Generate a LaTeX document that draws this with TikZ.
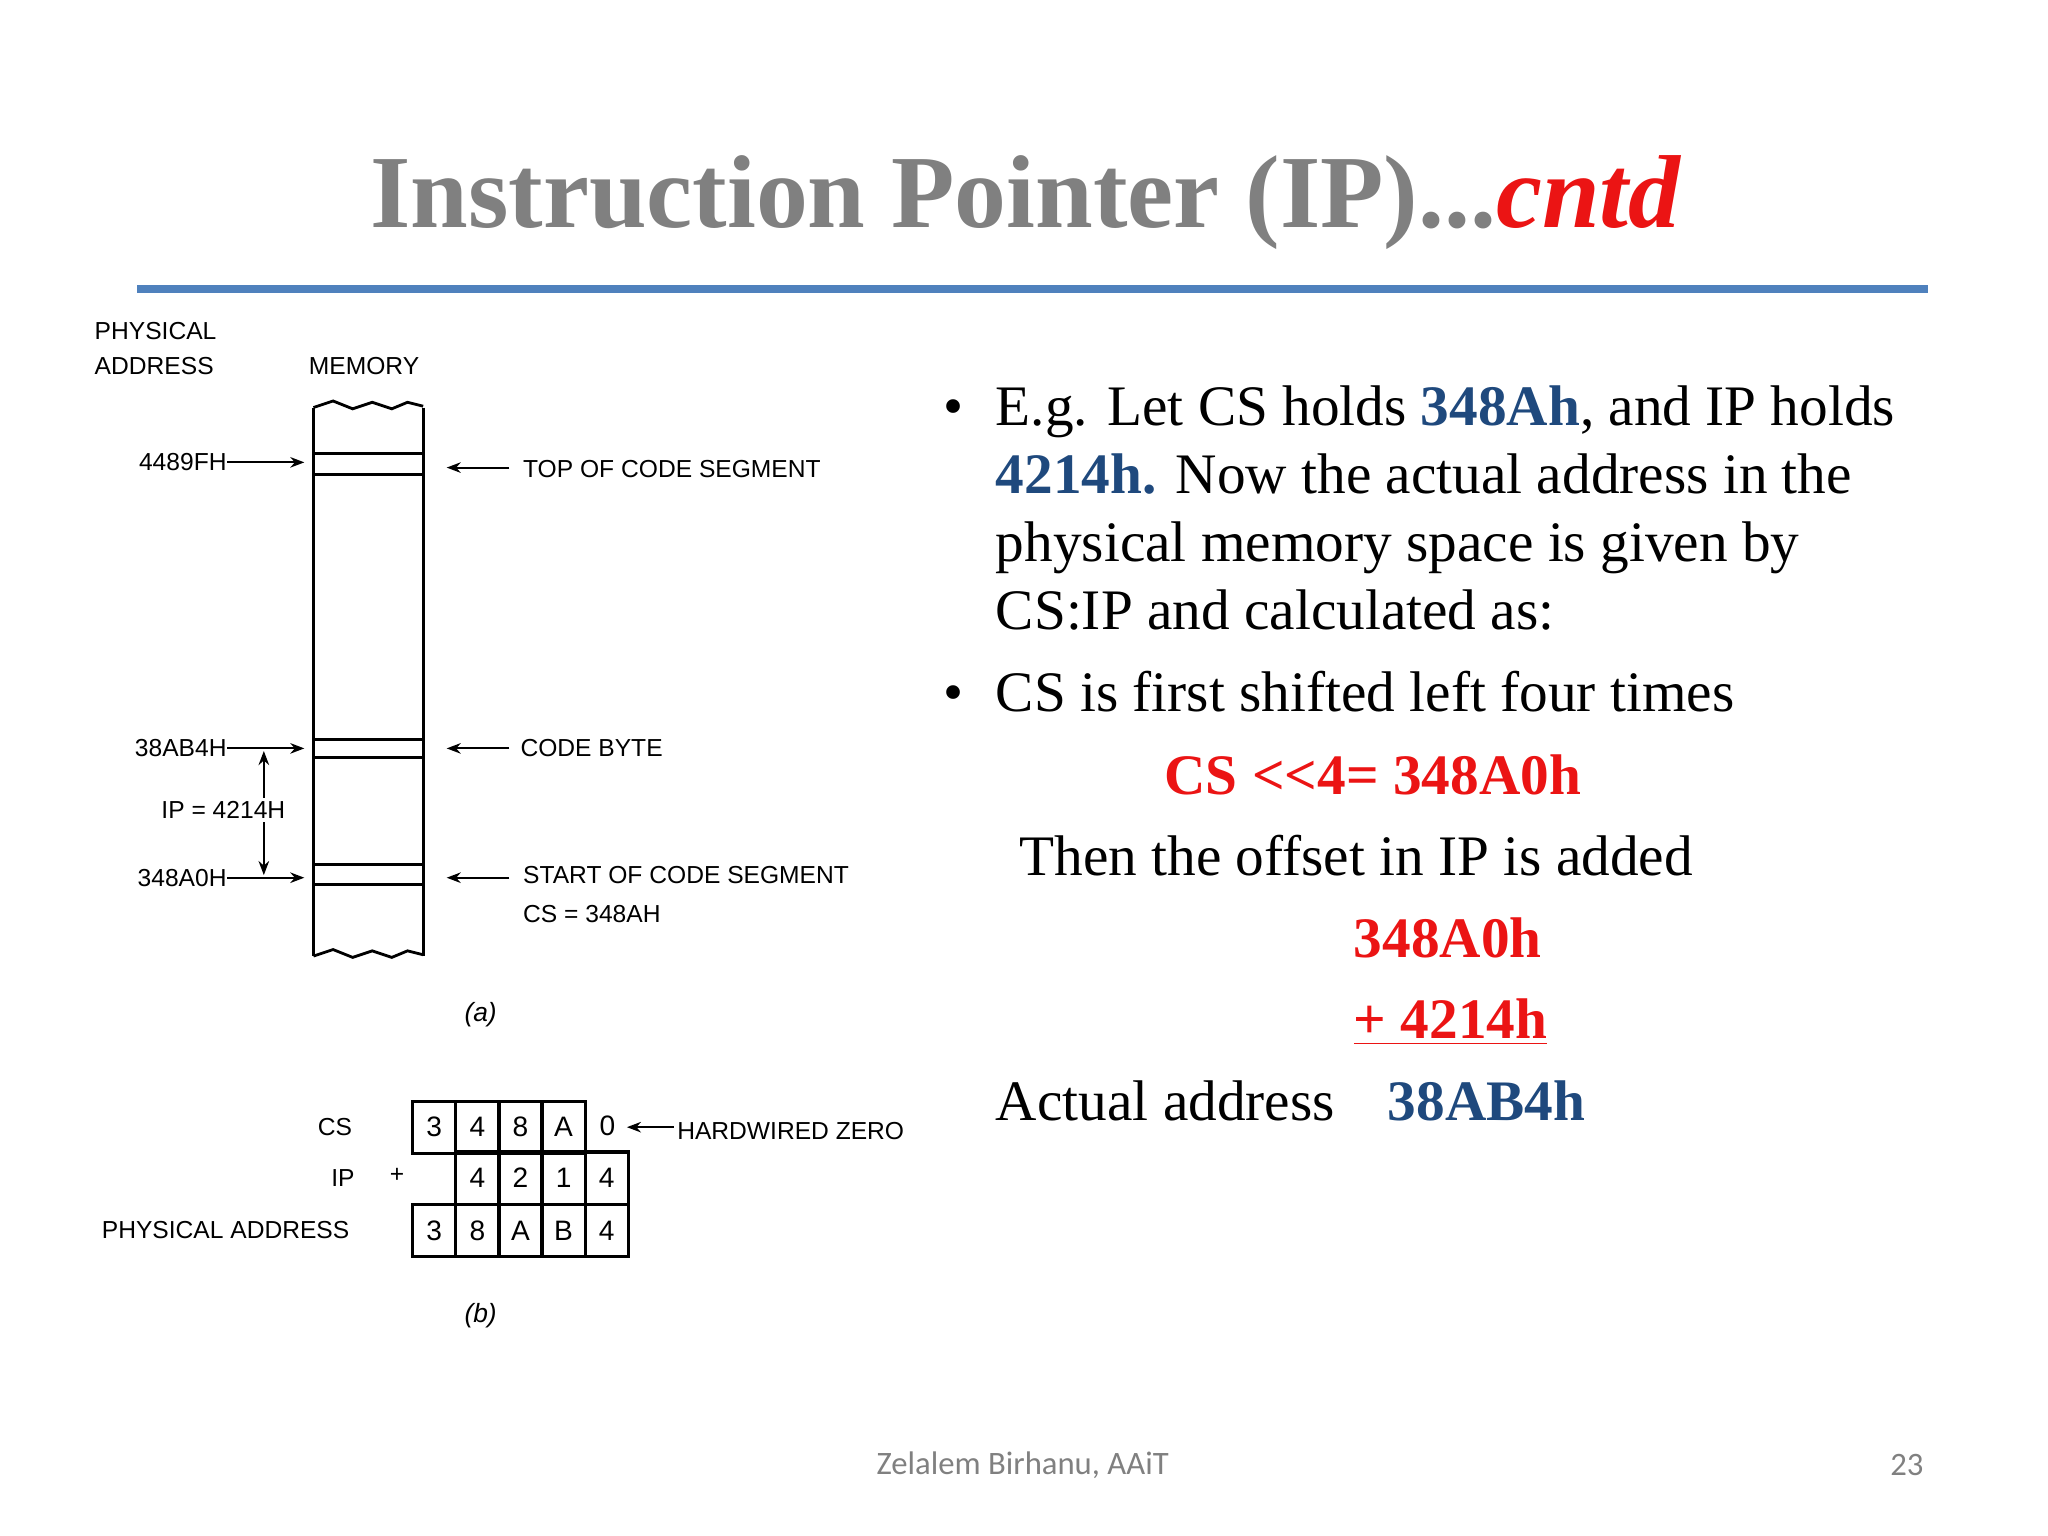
\documentclass[tikz,border=0pt]{standalone}
\usepackage{fontspec}
\setmainfont{Liberation Serif}
\newfontfamily\dg{Liberation Sans}
\newfontfamily\ft{Carlito}
\usetikzlibrary{arrows.meta}
\definecolor{tgray}{RGB}{128,128,128}
\definecolor{rule}{RGB}{79,129,189}
\definecolor{dblue}{RGB}{31,73,125}
\definecolor{myred}{RGB}{235,20,20}
\tikzset{
 lab/.style={font=\dg\fontsize{7}{9}\selectfont,inner sep=0pt},
 body/.style={font=\fontsize{16.3}{19}\selectfont,inner sep=0pt,anchor=base west},
 bb/.style={body,text=myred,font=\bfseries\fontsize{16.3}{19}\selectfont},
 ar/.style={-{Stealth[length=4pt,width=3pt]},line width=0.6pt},
 cell/.style={draw,line width=0.9pt,minimum width=0.431cm,minimum height=0.522cm,inner sep=0pt,font=\dg\fontsize{8}{9}\selectfont},
}
\begin{document}
\begin{tikzpicture}[x=0.013061cm,y=-0.013061cm]
\useasboundingbox (0,0) rectangle (1568,1176);
\node[font=\bfseries\fontsize{29.5}{36}\selectfont,text=tgray] (title) at (785,155) {Instruction Pointer (IP)...\textcolor{myred}{\itshape cntd}};
\draw[rule,line width=2.2pt] (105,221) -- (1476,221);
% memory diagram
\node[lab,anchor=west,align=left] (pa) at (72,267) {PHYSICAL\\[1pt]ADDRESS};
\node[lab,anchor=west] (mem) at (236,280) {MEMORY};
\draw[line width=0.9pt] (240,312) -- (240,732) (324,312)--(324,732);
\draw[line width=0.8pt] (240,312) -- (255,307) -- (270,313) -- (285,308) -- (300,313) -- (312,308) -- (324,311);
\draw[line width=0.8pt] (240,732) -- (255,727) -- (270,733) -- (285,728) -- (300,733) -- (312,728) -- (324,731);
\foreach \y in {347,363,566,580,662,677} \draw[line width=0.9pt] (240,\y) -- (324,\y);
\node[lab,anchor=east] (a1) at (174,354) {4489FH};
\coordinate (a1e) at (233,354);
\draw[ar] (a1) -- (a1e);
\node[lab,anchor=east] (a2) at (174,573) {38AB4H};
\coordinate (a2e) at (233,573);
\draw[ar] (a2) -- (a2e);
\node[lab,anchor=east] (a3) at (174,672) {348A0H};
\coordinate (a3e) at (233,672);
\draw[ar] (a3) -- (a3e);
\coordinate (v1) at (202,575); \coordinate (v2) at (202,670);
\draw[{Stealth[length=4pt,width=3pt]}-{Stealth[length=4pt,width=3pt]},line width=0.6pt] (v1) -- (v2);
\node[lab,fill=white,inner sep=1pt] (ip) at (171,620) {IP = 4214H};
\node[lab,anchor=west] (t1) at (400,359) {TOP OF CODE SEGMENT};
\coordinate (t1e) at (342,358);
\draw[ar] (390,358) -- (t1e);
\node[lab,anchor=west] (t2) at (398,573) {CODE BYTE};
\coordinate (t2e) at (342,573);
\draw[ar] (390,573) -- (t2e);
\node[lab,anchor=west,align=left] (t3) at (400,685) {START OF CODE SEGMENT\\[2pt]CS = 348AH};
\coordinate (t3e) at (342,672);
\draw[ar] (390,672) -- (t3e);
\node[lab,font=\dg\itshape\fontsize{7.5}{9}\selectfont] (capa) at (368,777) {(a)};
% grid
\foreach \t [count=\i] in {3,4,8,A} \node[cell] (c\i) at (316+33*\i-16.5,863) {\t};
\node[lab,font=\dg\fontsize{8}{9}\selectfont] (c5) at (465,862) {0};
\foreach \t [count=\i] in {4,2,1,4} \node[cell] (i\i) at (349+33*\i-16.5,902) {\t};
\foreach \t [count=\i] in {3,8,A,B,4} \node[cell] (p\i) at (316+33*\i-16.5,942) {\t};
\node[lab,anchor=east] (lcs) at (270,863) {CS};
\node[lab,anchor=east] (lip) at (272,902) {IP};
\node[lab] (plus) at (304,900) {+};
\node[lab,anchor=east] (lpa) at (268,942) {PHYSICAL ADDRESS};
\node[lab,anchor=west] (hz) at (518,866) {HARDWIRED ZERO};
\coordinate (hze) at (480,863);
\draw[ar] (516,863) -- (hze);
\node[lab,font=\dg\itshape\fontsize{7.5}{9}\selectfont] (capb) at (368,1007) {(b)};
% right text
\node[body] (b1) at (722,326) {•};
\node[body] (l1) at (762,326) {E.g. Let CS holds \textcolor{dblue}{\bfseries 348Ah}, and IP holds};
\node[body] (l2) at (762,378) {\textcolor{dblue}{\bfseries 4214h.} Now the actual address in the};
\node[body] (l3) at (762,430) {physical memory space is given by};
\node[body] (l4) at (762,482) {CS:IP and calculated as:};
\node[body] (b2) at (722,545) {•};
\node[body] (l5) at (762,545) {CS is first shifted left four times};
\node[bb,anchor=base] (l6) at (1051,608) {CS {<}{<}4= 348A0h};
\node[body] (l7) at (780,670) {Then the offset in IP is added};
\node[bb] (l8) at (1036,733) {348A0h};
\node[bb] (l9) at (1036,795) {\underline{+ 4214h}};
\node[body] (l10) at (762,858) {Actual address};
\node[bb,text=dblue] (l11) at (1062,858) {38AB4h};
% footer
\node[font=\ft\fontsize{9.3}{10}\selectfont,text=tgray] (f1) at (783,1122) {Zelalem Birhanu, AAiT};
\node[font=\ft\fontsize{9.3}{10}\selectfont,text=tgray] (f2) at (1460,1122) {23};
\end{tikzpicture}
\end{document}
